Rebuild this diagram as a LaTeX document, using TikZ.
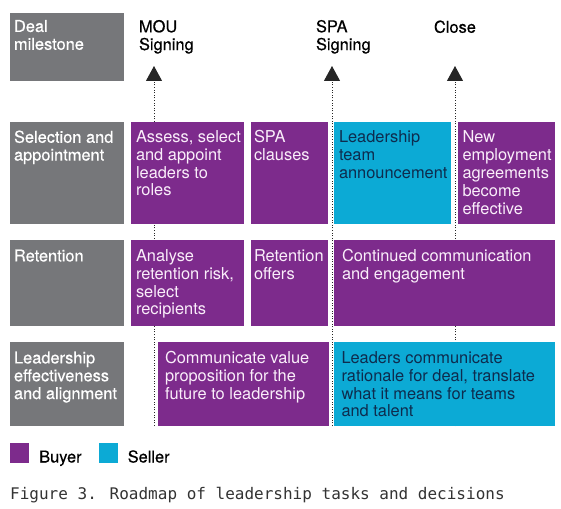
\documentclass[tikz,border=0pt]{standalone}
\usepackage{fontspec}
\setmainfont{TeX Gyre Heros}
\newfontface\medfont{TeX Gyre Heros}[FakeBold=0.45]
\newfontfamily\capfont{DejaVu Sans Mono}
\usetikzlibrary{arrows.meta}
\definecolor{buyer}{RGB}{125,43,140}
\definecolor{seller}{RGB}{12,170,213}
\definecolor{labelgrey}{RGB}{118,119,122}
\definecolor{sellertext}{RGB}{14,44,78}
\definecolor{buyertext}{RGB}{250,238,250}
\definecolor{captext}{RGB}{51,51,51}
\begin{document}
\begin{tikzpicture}[x=1pt,y=-1pt,
  cellbox/.style={draw=none, inner sep=0pt, outer sep=0pt, anchor=north west, rectangle},
  buyerbox/.style={cellbox, fill=buyer},
  sellerbox/.style={cellbox, fill=seller},
  greybox/.style={cellbox, fill=labelgrey},
  celltext/.style={anchor=north west, inner sep=0pt, outer sep=0pt, align=left, font=\fontsize{16.4}{17.8}\selectfont},
  ontbuyer/.style={celltext, text=buyertext},
  ontseller/.style={celltext, text=sellertext},
  ongrey/.style={celltext, text=white, font=\medfont\fontsize{16.4}{17.8}\selectfont},
  headtext/.style={celltext, text=black, font=\medfont\fontsize{16.4}{17.8}\selectfont},
  milestone/.style={line width=1pt, dash pattern=on 1pt off 1.6pt, black!85, -{Triangle[width=16pt,length=15pt]}},
  legtext/.style={anchor=base west, inner sep=0pt, font=\medfont\fontsize{16.4}{17.8}\selectfont, text=black}
]
\useasboundingbox (0,0) rectangle (561,508);
\fill[white] (0,0) rectangle (561,508);

% milestone lines
\coordinate (mouTop) at (154,66);
\coordinate (mouBot) at (154,426);
\coordinate (spaTop) at (332,66);
\coordinate (spaBot) at (332,426);
\coordinate (closeTop) at (455,66);
\coordinate (closeBot) at (455,426);
\draw[milestone] (mouBot) -- (mouTop);
\draw[milestone] (spaBot) -- (spaTop);
\draw[milestone] (closeBot) -- (closeTop);

% header
\node[greybox, minimum width=114pt, minimum height=68pt] (deal) at (10,13) {};
\node[ongrey] (dealT) at (14,20) {Deal\\milestone};
\node[headtext] (mouT) at (139,20) {MOU\\Signing};
\node[headtext] (spaT) at (316,20) {SPA\\Signing};
\node[headtext] (closeT) at (434,20.5) {Close};

% row 1
\node[greybox, minimum width=114pt, minimum height=102pt] (sel) at (10,122) {};
\node[ongrey] (selT) at (14,130.5) {Selection and\\appointment};
\node[buyerbox, minimum width=113pt, minimum height=102pt] (assess) at (131,122) {};
\node[ontbuyer] (assessT) at (136,130.5) {Assess, select\\and appoint\\leaders to\\roles};
\node[buyerbox, minimum width=77pt, minimum height=102pt] (clauses) at (251,122) {};
\node[ontbuyer] (clausesT) at (254,130.5) {SPA\\clauses};
\node[sellerbox, minimum width=117pt, minimum height=102pt] (announce) at (334,122) {};
\node[ontseller] (announceT) at (339,131) {Leadership\\team\\announcement};
\node[buyerbox, minimum width=97pt, minimum height=102pt] (newemp) at (458,122) {};
\node[ontbuyer] (newempT) at (462.5,131) {New\\employment\\agreements\\become\\effective};

% row 2
\node[greybox, minimum width=114pt, minimum height=86pt] (ret) at (10,240) {};
\node[ongrey] (retT) at (14,249.5) {Retention};
\node[buyerbox, minimum width=113pt, minimum height=86pt] (analyse) at (131,240) {};
\node[ontbuyer] (analyseT) at (136,249.5) {Analyse\\retention risk,\\select\\recipients};
\node[buyerbox, minimum width=77pt, minimum height=86pt] (offers) at (251,240) {};
\node[ontbuyer] (offersT) at (254,249.5) {Retention\\offers};
\node[buyerbox, minimum width=221pt, minimum height=86pt] (cont) at (334,240) {};
\node[ontbuyer] (contT) at (342,249.5) {Continued communication\\and engagement};

% row 3
\node[greybox, minimum width=114pt, minimum height=84pt] (lead) at (10,341.5) {};
\node[ongrey] (leadT) at (14,351.5) {Leadership\\effectiveness\\and alignment};
\node[buyerbox, minimum width=170.5pt, minimum height=84pt] (value) at (158,341.5) {};
\node[ontbuyer] (valueT) at (165,351.5) {Communicate value\\proposition for the\\future to leadership};
\node[sellerbox, minimum width=221pt, minimum height=84pt] (rationale) at (334,341.5) {};
\node[ontseller] (rationaleT) at (341.5,351.5) {Leaders communicate\\rationale for deal, translate\\what it means for teams\\and talent};

% legend
\node[cellbox, fill=buyer, minimum width=19pt, minimum height=20pt] (buyerKey) at (10,443) {};
\node[legtext] (buyerT) at (39,462.5) {Buyer};
\node[cellbox, fill=seller, minimum width=19pt, minimum height=20pt] (sellerKey) at (99,443) {};
\node[legtext] (sellerT) at (127.5,462.5) {Seller};

% caption
\node[anchor=base west, inner sep=0pt, font=\capfont\fontsize{16}{18}\selectfont, text=captext] (caption) at (10,499.5) {Figure 3. Roadmap of leadership tasks and decisions};
\end{tikzpicture}
\end{document}
